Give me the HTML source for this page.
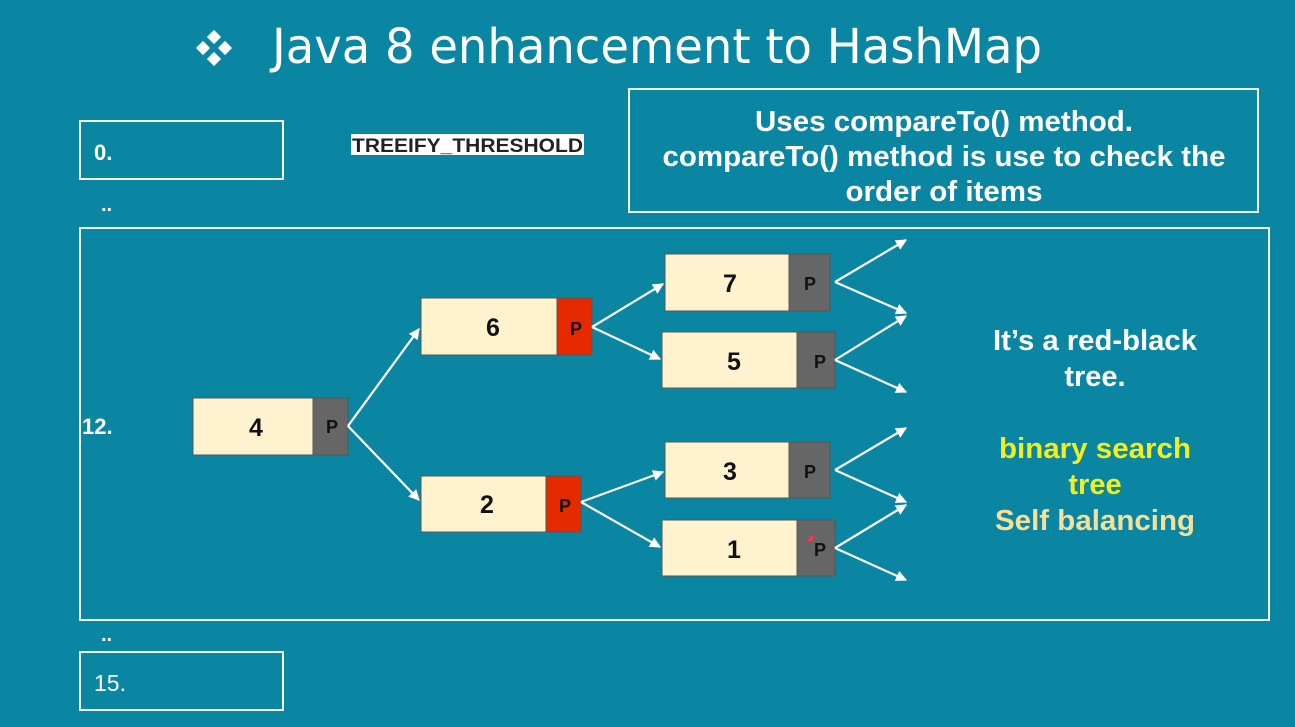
<!DOCTYPE html>
<html><head><meta charset="utf-8"><style>
html,body{margin:0;padding:0;background:#0a86a3;}
svg{display:block}
text{font-family:"Liberation Sans",sans-serif}
</style></head><body>
<svg width="1295" height="727" viewBox="0 0 1295 727" xmlns="http://www.w3.org/2000/svg">
<defs>
<marker id="a" viewBox="0 0 10 10" refX="9" refY="5" markerWidth="5" markerHeight="5" orient="auto"><path d="M0,0 L10,5 L0,10 z" fill="#fff"/></marker>
</defs>
<rect width="1295" height="727" fill="#0a86a3"/>
<!-- title -->
<g fill="#fff">
<rect x="209" y="32" width="10" height="10" transform="rotate(45 214 37)"/>
<rect x="198" y="43" width="10" height="10" transform="rotate(45 203 48)"/>
<rect x="220" y="43" width="10" height="10" transform="rotate(45 225 48)"/>
<rect x="209" y="54" width="10" height="10" transform="rotate(45 214 59)"/>
</g>
<text x="272" y="63" font-size="48" fill="#fff" style="font-family:'DejaVu Sans','Liberation Sans',sans-serif" textLength="770" lengthAdjust="spacingAndGlyphs">Java 8 enhancement to HashMap</text>
<!-- boxes -->
<g fill="none" stroke="#f2fbff" stroke-width="2">
<rect x="80" y="121" width="203" height="58"/>
<rect x="80" y="652" width="203" height="58"/>
<rect x="629" y="89" width="629" height="123"/>
<rect x="80" y="228" width="1189" height="392"/>
</g>
<text x="94" y="160" font-size="22" font-weight="bold" fill="#fff">0.</text>
<text x="101" y="211" font-size="20" font-weight="bold" fill="#fff">..</text>
<text x="101" y="641" font-size="20" font-weight="bold" fill="#fff">..</text>
<text x="94" y="691" font-size="23" fill="#fff">15.</text>
<text x="82" y="434" font-size="22" font-weight="bold" fill="#fff">12.</text>
<rect x="351" y="134" width="233" height="21" fill="#fff"/>
<text x="352" y="152" font-size="19" font-weight="bold" fill="#222" textLength="231" lengthAdjust="spacingAndGlyphs">TREEIFY_THRESHOLD</text>
<g font-size="29" font-weight="bold" fill="#fff" text-anchor="middle">
<text x="944" y="131" textLength="378" lengthAdjust="spacingAndGlyphs">Uses compareTo() method.</text>
<text x="944" y="166" textLength="563" lengthAdjust="spacingAndGlyphs">compareTo() method is use to check the</text>
<text x="944" y="201" textLength="197" lengthAdjust="spacingAndGlyphs">order of items</text>
</g>
<g font-size="29" font-weight="bold" text-anchor="middle">
<text x="1095" y="350" fill="#fff" textLength="204" lengthAdjust="spacingAndGlyphs">It’s a red-black</text>
<text x="1095" y="386" fill="#fff">tree.</text>
<text x="1095" y="458" fill="#f0f020" textLength="192" lengthAdjust="spacingAndGlyphs">binary search</text>
<text x="1095" y="494" fill="#f0f020">tree</text>
<text x="1095" y="530" fill="#f5e09a" textLength="200" lengthAdjust="spacingAndGlyphs">Self balancing</text>
</g>
<!-- nodes -->
<g stroke="#555" stroke-width="1">
<rect x="193" y="398" width="120" height="57" fill="#fff2cf"/><rect x="313" y="398" width="35" height="57" fill="#666"/>
<rect x="421" y="298" width="136" height="57" fill="#fff2cf"/><rect x="557" y="298" width="35" height="57" fill="#e52a00"/>
<rect x="421" y="476" width="125" height="56" fill="#fff2cf"/><rect x="546" y="476" width="35" height="56" fill="#e52a00"/>
<rect x="665" y="254" width="124" height="57" fill="#fff2cf"/><rect x="789" y="254" width="41" height="57" fill="#666"/>
<rect x="662" y="332" width="135" height="56" fill="#fff2cf"/><rect x="797" y="332" width="38" height="56" fill="#666"/>
<rect x="665" y="442" width="124" height="56" fill="#fff2cf"/><rect x="789" y="442" width="41" height="56" fill="#666"/>
<rect x="662" y="520" width="135" height="56" fill="#fff2cf"/><rect x="797" y="520" width="38" height="56" fill="#666"/>
</g>
<g font-size="25" font-weight="bold" fill="#111" text-anchor="middle">
<text x="256" y="436">4</text><text x="493" y="336">6</text><text x="487" y="513">2</text>
<text x="730" y="292">7</text><text x="734" y="370">5</text><text x="730" y="480">3</text><text x="734" y="558">1</text>
</g>
<g font-size="18" font-weight="bold" fill="#111" text-anchor="middle">
<text x="332" y="433">P</text><text x="576" y="335">P</text><text x="565" y="512">P</text>
<text x="810" y="290">P</text><text x="820" y="368">P</text><text x="810" y="478">P</text><text x="820" y="556">P</text>
</g>
<path d="M806,540 l9,-6 l-3,8 z" fill="#ff3050"/>
<!-- arrows -->
<g stroke="#fff" stroke-width="2.2" fill="none" marker-end="url(#a)">
<line x1="348" y1="426" x2="419" y2="329"/><line x1="348" y1="426" x2="419" y2="500"/>
<line x1="592" y1="327" x2="663" y2="284"/><line x1="592" y1="327" x2="660" y2="359"/>
<line x1="581" y1="502" x2="663" y2="472"/><line x1="581" y1="502" x2="660" y2="547"/>
<line x1="835" y1="282" x2="906" y2="240"/><line x1="835" y1="282" x2="906" y2="313"/>
<line x1="835" y1="360" x2="906" y2="316"/><line x1="835" y1="360" x2="906" y2="392"/>
<line x1="835" y1="470" x2="906" y2="428"/><line x1="835" y1="470" x2="906" y2="502"/>
<line x1="835" y1="548" x2="906" y2="505"/><line x1="835" y1="548" x2="906" y2="580"/>
</g>
</svg>
</body></html>
